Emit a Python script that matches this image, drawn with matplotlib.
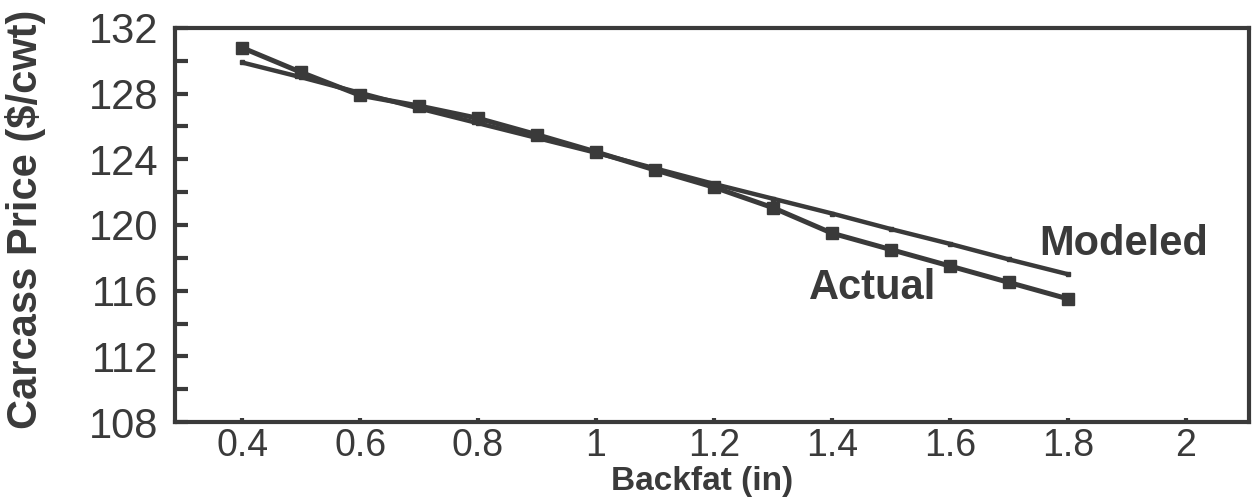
import numpy as np
import matplotlib.pyplot as plt
from matplotlib.ticker import MultipleLocator

# backfat depth (in) and carcass price ($/cwt)
backfat = [0.4, 0.5, 0.6, 0.7, 0.8, 0.9, 1.0, 1.1, 1.2, 1.3, 1.4, 1.5, 1.6, 1.7, 1.8]
actual = [130.8, 129.3, 127.9, 127.25, 126.5, 125.5, 124.45, 123.35, 122.3,
          121.05, 119.5, 118.5, 117.5, 116.5, 115.5]
modeled = [129.9, 129.0, 128.05, 127.1, 126.2, 125.3, 124.4, 123.45, 122.5,
           121.6, 120.7, 119.75, 118.85, 117.9, 117.0]

xticks = [0.4, 0.6, 0.8, 1.0, 1.2, 1.4, 1.6, 1.8, 2.0]
xlabels = ['0.4', '0.6', '0.8', '1', '1.2', '1.4', '1.6', '1.8', '2']
yticks = [108, 112, 116, 120, 124, 128, 132]

ink = '#3a3a3a'
plt.rcParams['font.family'] = ['Liberation Sans', 'DejaVu Sans']

fig = plt.figure(figsize=(12.54, 4.98), dpi=100)
ax = fig.add_axes([0.1396, 0.1526, 0.8564, 0.7912])

ax.plot(backfat, modeled, '-', color=ink, lw=3.2, marker='s', ms=3.5,
        solid_capstyle='butt', zorder=3)
ax.plot(backfat, actual, '-', color=ink, lw=3.6, marker='s', ms=8.5,
        solid_capstyle='butt', zorder=4)

ax.text(1.895, 118.85, 'Modeled', fontsize=30, fontweight='bold', color=ink,
        ha='center', va='center')
ax.text(1.469, 116.15, 'Actual', fontsize=30, fontweight='bold', color=ink,
        ha='center', va='center')

ax.set_xlim(0.2864, 2.1068)
ax.set_ylim(108, 132)
ax.set_xticks(xticks)
ax.set_xticklabels(xlabels)
ax.set_yticks(yticks)
ax.yaxis.set_minor_locator(MultipleLocator(2))

for s in ax.spines.values():
    s.set_linewidth(3.0)
    s.set_color(ink)

ax.tick_params(axis='y', which='both', direction='in', length=9, width=3,
               color=ink, labelsize=30, labelcolor=ink, pad=12)
ax.tick_params(axis='x', direction='in', length=3, width=3, color=ink,
               labelsize=27, labelcolor=ink, pad=4)

ax.set_xlabel('Backfat (in)', fontsize=24, fontweight='bold', color=ink,
              va='center')
ax.xaxis.set_label_coords(0.491, -0.150)
ax.set_ylabel('Carcass Price ($/cwt)', fontsize=30, fontweight='bold',
              color=ink, va='center')
ax.yaxis.set_label_coords(-0.139, 0.515)

fig.savefig('out.png', dpi=100)
